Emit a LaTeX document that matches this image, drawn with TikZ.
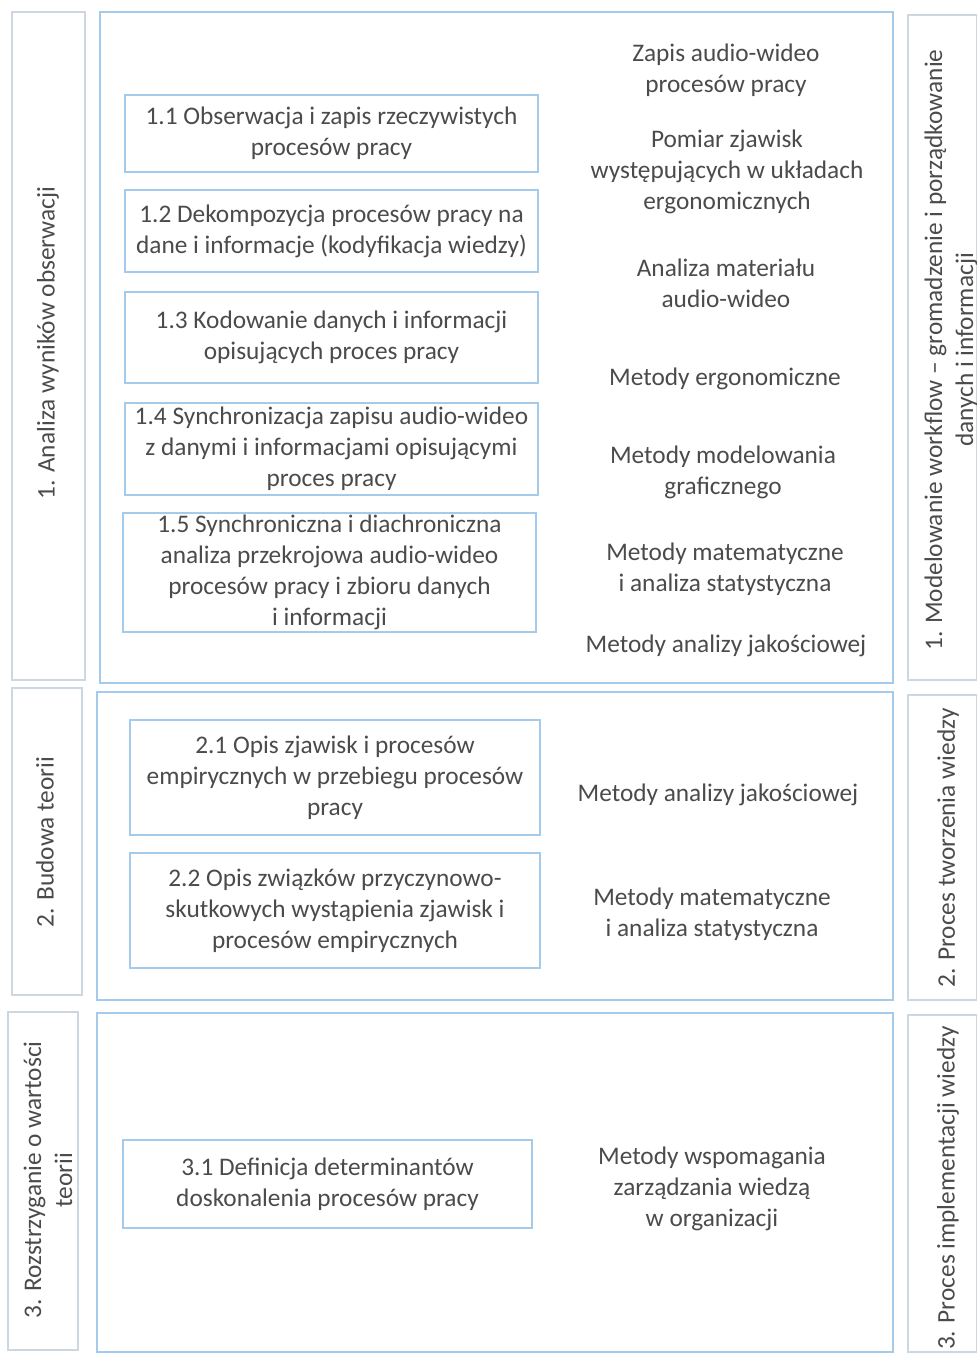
\documentclass[tikz,border=0pt]{standalone}
\usepackage{fontspec}
\setmainfont{Carlito}
\usetikzlibrary{positioning, fit}
\definecolor{frameblue}{RGB}{165,203,236}
\definecolor{framegray}{RGB}{205,215,225}
\definecolor{txtgray}{RGB}{75,75,75}
\newcommand{\boxfont}{\fontsize{18}{22}\selectfont}
\tikzset{
    panel/.style={draw=frameblue, line width=1.5pt, inner sep=0pt},
    sidebox/.style={draw=framegray, line width=1.5pt, inner sep=0pt},
    stepbox/.style={draw=frameblue, line width=1.3pt, inner sep=0pt},
    steptext/.style={align=center, text=txtgray, font=\boxfont},
    sidetext/.style={rotate=90, align=center, text=txtgray, font=\boxfont},
    method/.style={align=center, text=txtgray, font=\boxfont}
}

\begin{document}
\begin{tikzpicture}[x=0.025cm, y=-0.025cm]
    \useasboundingbox[fill=white] (0,0) rectangle (977,1354);

    % left column: stages of the research
    \node[sidebox, fit={(12,12) (85,680)}] (lcol1) {};
    \node[sidebox, fit={(12,688) (82,995)}] (lcol2) {};
    \node[sidebox, fit={(8,1012) (78,1350)}] (lcol3) {};
    \node[sidetext] (llab1) at (48,343) {1. Analiza wyników obserwacji};
    \node[sidetext] (llab2) at (45,842) {2. Budowa teorii};
    \node[sidetext] (llab3) at (48,1180) {3. Rozstrzyganie o wartości\\teorii};

    % right column: knowledge processes
    \node[sidebox, fit={(908,15) (977,680)}] (rcol1) {};
    \node[sidebox, fit={(908,695) (977,1000)}] (rcol2) {};
    \node[sidebox, fit={(908,1015) (977,1352)}] (rcol3) {};
    \node[sidetext] (rlab1) at (951,350) {1. Modelowanie workflow -- gromadzenie i porządkowanie\\danych i informacji};
    \node[sidetext] (rlab2) at (948,848) {2. Proces tworzenia wiedzy};
    \node[sidetext] (rlab3) at (948,1188) {3. Proces implementacji wiedzy};

    % middle panels
    \node[panel, fit={(100,12) (893,683)}] (stage1) {};
    \node[panel, fit={(97,692) (893,1000)}] (stage2) {};
    \node[panel, fit={(97,1013) (893,1352)}] (stage3) {};

    % steps of stage 1
    \node[stepbox, fit={(125,95) (538,172)}, label={[steptext]center:{1.1 Obserwacja i zapis rzeczywistych\\procesów pracy}}] (s11) {};
    \node[stepbox, fit={(125,190) (538,272)}, label={[steptext]center:{1.2 Dekompozycja procesów pracy na\\dane i informacje (kodyfikacja wiedzy)}}] (s12) {};
    \node[stepbox, fit={(125,292) (538,383)}, label={[steptext]center:{1.3 Kodowanie danych i informacji\\opisujących proces pracy}}] (s13) {};
    \node[stepbox, fit={(125,403) (538,495)}, label={[steptext]center:{1.4 Synchronizacja zapisu audio-wideo\\z danymi i informacjami opisującymi\\proces pracy}}] (s14) {};
    \node[stepbox, fit={(123,513) (536,632)}, label={[steptext]center:{1.5 Synchroniczna i diachroniczna\\analiza przekrojowa audio-wideo\\procesów pracy i zbioru danych\\i informacji}}] (s15) {};

    % methods of stage 1
    \node[method] (m11) at (726,70) {Zapis audio-wideo\\procesów pracy};
    \node[method] (m12) at (727,172) {Pomiar zjawisk\\występujących w układach\\ergonomicznych};
    \node[method] (m13) at (726,283) {Analiza materiału\\audio-wideo};
    \node[method] (m14) at (725,379) {Metody ergonomiczne};
    \node[method] (m15) at (723,472) {Metody modelowania\\graficznego};
    \node[method] (m16) at (725,569) {Metody matematyczne\\i analiza statystyczna};
    \node[method] (m17) at (726,646) {Metody analizy jakościowej};

    % stage 2
    \node[stepbox, fit={(130,720) (540,835)}, label={[steptext]center:{2.1 Opis zjawisk i procesów\\empirycznych w przebiegu procesów\\pracy}}] (s21) {};
    \node[stepbox, fit={(130,853) (540,968)}, label={[steptext]center:{2.2 Opis związków przyczynowo-\\skutkowych wystąpienia zjawisk i\\procesów empirycznych}}] (s22) {};
    \node[method] (m21) at (718,795) {Metody analizy jakościowej};
    \node[method] (m22) at (712,914) {Metody matematyczne\\i analiza statystyczna};

    % stage 3
    \node[stepbox, fit={(123,1140) (532,1228)}, label={[steptext]center:{3.1 Definicja determinantów\\doskonalenia procesów pracy}}] (s31) {};
    \node[method] (m31) at (712,1189) {Metody wspomagania\\zarządzania wiedzą\\w organizacji};
\end{tikzpicture}
\end{document}
